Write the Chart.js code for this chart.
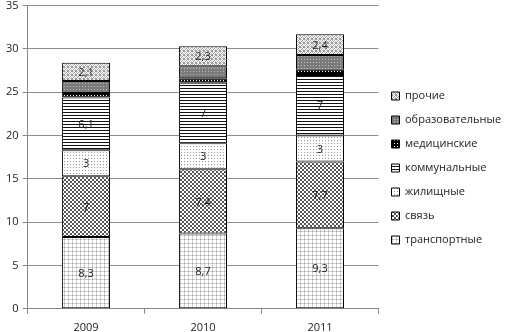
<!DOCTYPE html>
<html>
<head>
<meta charset="utf-8">
<script src="https://cdn.jsdelivr.net/npm/chart.js@4/dist/chart.umd.min.js"></script>
<style>
  body { margin: 0; background: #fff; overflow: hidden; }
  #wrap { width: 516px; height: 332px; overflow: hidden; }
  #chart { display: block; margin-top: -5px; }
</style>
</head>
<body>
<div id="wrap"><canvas id="chart" width="516" height="337"></canvas></div>
<script>
// categories and values
const years = ['2009', '2010', '2011'];
const seriesNames = ['транспортные', 'связь', 'жилищные', 'коммунальные', 'медицинские', 'образовательные', 'прочие'];
const transport = [8.3, 8.7, 9.3];
const svyaz = [7, 7.4, 7.7];
const housing = [3, 3, 3];
const utilities = [6.1, 7, 7];
const medical = [0.5, 0.5, 0.6];
const education = [1.4, 1.4, 1.7];
const other = [2.1, 2.3, 2.4];
const yTicks = [0, 5, 10, 15, 20, 25, 30, 35];

// small tiles for the hatch fills
function makePattern(w, h, bg, draw) {
  const c = document.createElement('canvas');
  c.width = w; c.height = h;
  const x = c.getContext('2d');
  x.fillStyle = bg;
  x.fillRect(0, 0, w, h);
  draw(x);
  return x.createPattern(c, 'repeat');
}

const fills = [
  // транспортные - light grid
  makePattern(4, 4, '#fff', x => {
    x.fillStyle = '#cfcfcf';
    x.fillRect(0, 0, 4, 1);
    x.fillRect(0, 0, 1, 4);
    x.fillStyle = '#a0a0a0';
    x.fillRect(0, 0, 1, 1);
  }),
  // связь - checker
  makePattern(4, 4, '#fff', x => {
    x.fillStyle = '#555';
    x.fillRect(0, 0, 2, 2);
    x.fillRect(2, 2, 2, 2);
  }),
  // жилищные - sparse dots
  makePattern(3, 3, '#fff', x => {
    x.fillStyle = '#999';
    x.fillRect(1, 1, 1, 1);
  }),
  // коммунальные - horizontal lines
  makePattern(4, 3, '#fff', x => {
    x.fillStyle = '#111';
    x.fillRect(0, 0, 4, 1);
  }),
  // медицинские - black with white dots
  makePattern(3, 3, '#000', x => {
    x.fillStyle = '#fff';
    x.fillRect(1, 1, 1, 1);
  }),
  // образовательные - gray with light dots
  makePattern(3, 3, '#7a7a7a', x => {
    x.fillStyle = '#bdbdbd';
    x.fillRect(1, 1, 1, 1);
  }),
  // прочие - fine speckle
  makePattern(4, 4, '#fff', x => {
    x.fillStyle = '#9a9a9a';
    [[0, 0], [2, 1], [1, 2], [3, 3], [3, 0], [0, 3]].forEach(p => x.fillRect(p[0], p[1], 1, 1));
    x.fillStyle = '#d0d0d0';
    [[1, 0], [2, 3], [0, 1], [3, 2]].forEach(p => x.fillRect(p[0], p[1], 1, 1));
  })
];

const values = [transport, svyaz, housing, utilities, medical, education, other];
const withLabels = [true, true, true, true, false, false, true];

const datasets = values.map((v, i) => ({
  label: seriesNames[i],
  data: v,
  backgroundColor: fills[i],
  borderColor: '#000',
  borderWidth: 1,
  borderSkipped: false,
  showLabel: withLabels[i],
  barPercentage: 0.41,
  categoryPercentage: 1
}));

// values written in the middle of each segment
const segmentLabels = {
  id: 'segmentLabels',
  afterDatasetsDraw(chart) {
    const ctx = chart.ctx;
    ctx.save();
    ctx.font = '11px "Open Sans"';
    ctx.fillStyle = '#222';
    ctx.textAlign = 'center';
    ctx.textBaseline = 'middle';
    chart.data.datasets.forEach((ds, i) => {
      if (!ds.showLabel) return;
      chart.getDatasetMeta(i).data.forEach((bar, j) => {
        const y = (bar.y + bar.base) / 2;
        ctx.fillText(String(ds.data[j]).replace('.', ','), bar.x, y + 1);
      });
    });
    ctx.restore();
  }
};

Chart.defaults.font.family = '"Open Sans", sans-serif';
Chart.defaults.font.size = 11;
Chart.defaults.color = '#333';

new Chart(document.getElementById('chart'), {
  type: 'bar',
  data: { labels: years, datasets: datasets },
  options: {
    responsive: false,
    animation: false,
    layout: { padding: { left: 2, right: 12, top: 0, bottom: -9 } },
    plugins: {
      legend: {
        position: 'right',
        reverse: true,
        labels: { boxWidth: 8, boxHeight: 8, padding: 13, color: '#222' }
      },
      tooltip: { enabled: false }
    },
    scales: {
      x: {
        stacked: true,
        grid: { drawOnChartArea: false, drawTicks: true, tickLength: 5, color: '#888', offset: true },
        border: { color: '#888' },
        ticks: { padding: 7, color: '#222' }
      },
      y: {
        stacked: true,
        min: 0,
        max: 35,
        afterBuildTicks: scale => { scale.ticks = yTicks.map(v => ({ value: v })); },
        grid: { color: '#8c8c8c', tickLength: 5 },
        border: { color: '#888' },
        ticks: { padding: 4, color: '#222' }
      }
    }
  },
  plugins: [segmentLabels]
});
</script>
</body>
</html>
